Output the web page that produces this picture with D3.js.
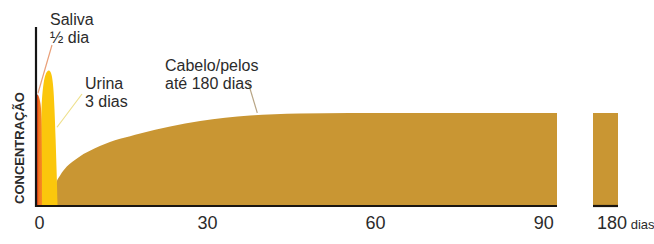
<!DOCTYPE html>
<html>
<head>
<meta charset="utf-8">
<script src="https://cdn.jsdelivr.net/npm/d3@7"></script>
<style>
  body { margin: 0; background: #fff; }
  svg { display: block; }
  .lbl { font-family: "Liberation Sans Narrow", "Liberation Sans", sans-serif; fill: #2b2b2b; }
</style>
</head>
<body>
<div id="chart"></div>
<script>
// concentration curves, [day, relative concentration 0-100]
const saliva = [[0, 60], [0.2, 63], [0.5, 61.5], [0.8, 58], [1.0, 52], [1.07, 25], [1.08, 0]];
const urine = [[0.9, 0], [0.9, 45], [1.0, 58], [1.25, 67], [1.6, 73], [2.0, 75.5], [2.4, 76],
  [2.8, 74], [3.1, 67], [3.3, 55], [3.5, 38], [3.7, 18], [3.85, 0]];
const hair = [[3.1, 0], [3.25, 7], [3.6, 12.5], [4.3, 17], [5.5, 22], [7.5, 27], [11.4, 33.5],
  [18.6, 40.5], [29.3, 47.5], [38.2, 50.5], [47, 51.7], [56, 52], [93, 52]];
const hairTail = [[178, 52], [182, 52]];

const ticksMain = [0, 30, 60, 90];
const ticksTail = [180];
const yTitle = 'CONCENTRAÇÃO';

// label text + the point on the curve the leader line touches
const notes = [
  { lines: ['Saliva', '½ dia'], at: [0.35, 63] },
  { lines: ['Urina', '3 dias'], at: [3.75, 44] },
  { lines: ['Cabelo/pelos', 'até 180 dias'], at: [39.5, 52] }
];

const width = 654, height = 244;
const svg = d3.select('#chart').append('svg')
  .attr('width', width)
  .attr('height', height);

const x = d3.scaleLinear().domain([0, 93]).range([36, 557]);
const x2 = d3.scaleLinear().domain([178, 182]).range([593, 618]);
const y = d3.scaleLinear().domain([0, 100]).range([206, 27]);

const defs = svg.append('defs');
const grad = defs.append('linearGradient').attr('id', 'salivaGrad')
  .attr('x1', '0%').attr('x2', '100%').attr('y1', '0%').attr('y2', '0%');
grad.append('stop').attr('offset', '0%').attr('stop-color', '#d8351c');
grad.append('stop').attr('offset', '25%').attr('stop-color', '#e4481b');
grad.append('stop').attr('offset', '45%').attr('stop-color', '#f2761f');
grad.append('stop').attr('offset', '100%').attr('stop-color', '#f78c22');

const area = (sx) => d3.area()
  .x(d => sx(d[0]))
  .y0(y(0))
  .y1(d => y(d[1]))
  .curve(d3.curveMonotoneX);

svg.append('path').datum(hair)
  .attr('d', area(x))
  .attr('fill', '#c99633');
svg.append('path').datum(hairTail)
  .attr('d', area(x2))
  .attr('fill', '#c99633');

svg.append('path').datum(urine)
  .attr('d', d3.area().x(d => x(d[0])).y0(y(0)).y1(d => y(d[1])).curve(d3.curveBasis))
  .attr('fill', '#fbc70c');

svg.append('path').datum(saliva)
  .attr('d', d3.area().x(d => x(d[0])).y0(y(0)).y1(d => y(d[1])).curve(d3.curveBasis))
  .attr('fill', 'url(#salivaGrad)');

// axes lines
svg.append('line')
  .attr('x1', x.range()[0]).attr('x2', x.range()[0])
  .attr('y1', y.range()[1]).attr('y2', y(0) + 1)
  .attr('stroke', '#151515').attr('stroke-width', 2.2);
svg.append('line')
  .attr('x1', x.range()[0] - 1).attr('x2', x.range()[1])
  .attr('y1', y(0)).attr('y2', y(0))
  .attr('stroke', '#1a1510').attr('stroke-width', 2.2);
svg.append('line')
  .attr('x1', x2.range()[0]).attr('x2', x2.range()[1])
  .attr('y1', y(0)).attr('y2', y(0))
  .attr('stroke', '#1a1510').attr('stroke-width', 2.2);

// tick labels
const axMain = svg.append('g')
  .attr('transform', `translate(0,${y(0)})`)
  .call(d3.axisBottom(x).tickValues(ticksMain).tickFormat(d3.format('d')).tickSize(0).tickPadding(10));
const axTail = svg.append('g')
  .attr('transform', `translate(0,${y(0)})`)
  .call(d3.axisBottom(x2).tickValues(ticksTail).tickFormat(d3.format('d')).tickSize(0).tickPadding(10));
[axMain, axTail].forEach(g => {
  g.select('.domain').remove();
  g.selectAll('text')
    .attr('class', 'lbl')
    .style('font-size', '18px')
    .attr('fill', '#2b2b2b');
});
axMain.selectAll('text').attr('dx', 3);
axTail.selectAll('text')
  .attr('text-anchor', 'start')
  .attr('dx', -9)
  .append('tspan')
  .style('font-size', '13px')
  .text(' dias');

// y title
svg.append('text')
  .attr('class', 'lbl')
  .attr('transform', `translate(24,${(y(0) + 90) / 2}) rotate(-90)`)
  .attr('text-anchor', 'middle')
  .style('font-family', '"Liberation Sans", sans-serif')
  .style('font-size', '13px')
  .style('font-weight', 'bold')
  .attr('fill', '#333')
  .text(yTitle);

// annotations
const notePos = [
  { tx: 50, ty: 25, lx: 52, ly: 45, stroke: '#e9a079' },
  { tx: 85, ty: 89, lx: 82, ly: 94, stroke: '#eee08c' },
  { tx: 165, ty: 71, lx: 248, ly: 82, stroke: '#b8a585' }
];
notes.forEach((n, i) => {
  const p = notePos[i];
  svg.append('line')
    .attr('x1', p.lx).attr('y1', p.ly)
    .attr('x2', x(n.at[0])).attr('y2', y(n.at[1]))
    .attr('stroke', p.stroke).attr('stroke-width', 1.2);
  const t = svg.append('text')
    .attr('class', 'lbl')
    .attr('x', p.tx).attr('y', p.ty)
    .style('font-size', '16px');
  n.lines.forEach((s, k) => {
    t.append('tspan').attr('x', p.tx).attr('dy', k === 0 ? 0 : 17.5).text(s);
  });
});
</script>
</body>
</html>
